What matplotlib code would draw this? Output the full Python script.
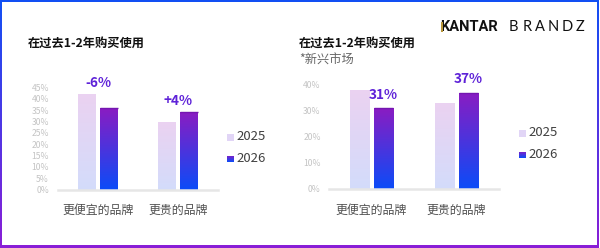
import numpy as np
import matplotlib
matplotlib.use("Agg")
import matplotlib.pyplot as plt
from matplotlib.colors import LinearSegmentedColormap
from matplotlib.patches import Rectangle
from matplotlib.ticker import FuncFormatter

plt.rcParams["font.family"] = ["Noto Sans CJK SC", "DejaVu Sans"]

# ---- data ----
categories = ["更便宜的品牌", "更贵的品牌"]
years = ["2025", "2026"]

left_2025 = [42, 30]
left_2026 = [36, 34]
left_change = ["-6%", "+4%"]
left_ticks = [0, 5, 10, 15, 20, 25, 30, 35, 40, 45]

right_2025 = [38, 33]
right_2026 = [31, 37]
right_ticks = [0, 10, 20, 30, 40]

title = "在过去1-2年购买使用"
subtitle = "*新兴市场"

# ---- style ----
C25_TOP, C25_BOT = "#ebd2f1", "#d3dcfb"
C26_TOP, C26_BOT = "#8a1cc2", "#0b4cf8"
LABEL_C = "#5e22d8"
TICK_C = "#c4c4c4"
CAT_C = "#505050"

W, H = 600, 248
fig = plt.figure(figsize=(W / 100, H / 100), dpi=100)

# background axes in pixel coordinates (border, texts, legend)
bg = fig.add_axes([0, 0, 1, 1], zorder=-10)
bg.set_xlim(0, W)
bg.set_ylim(H, 0)
bg.axis("off")
border = LinearSegmentedColormap.from_list("b", ["#1250f4", "#8a1ed6"])
bg.imshow(np.linspace(0, 1, 256).reshape(-1, 1), cmap=border,
          extent=(0, W, H, 0), aspect="auto", origin="upper", zorder=0)
bg.add_patch(Rectangle((2, 2), 594.8, 243.3, color="white", lw=0, zorder=1))
bg.add_patch(Rectangle((599, 0), 1, H, color="white", lw=0, zorder=1))


def grad_fill(ax, patch, top, bottom, z):
    cmap = LinearSegmentedColormap.from_list("g", [bottom, top])
    x0, y0 = patch.get_x(), patch.get_y()
    w, h = patch.get_width(), patch.get_height()
    im = ax.imshow(np.linspace(0, 1, 256).reshape(-1, 1), cmap=cmap,
                   extent=(x0, x0 + w, y0, y0 + h), origin="lower",
                   aspect="auto", zorder=z)
    im.set_clip_path(patch)


def draw_chart(rect, v25, v26, ticks, ymax, pad):
    ax = fig.add_axes(rect)
    ax.set_facecolor("none")
    x = np.arange(len(categories))
    off, bw = 0.143, 0.225
    b25 = ax.bar(x - off, v25, bw, color="none", lw=0, zorder=2)
    b26 = ax.bar(x + off, v26, bw, color="none", lw=0, zorder=2)
    for b in b25:
        grad_fill(ax, b, C25_TOP, C25_BOT, 2)
    for b in b26:
        grad_fill(ax, b, C26_TOP, C26_BOT, 2)
        ax.plot([b.get_x(), b.get_x() + b.get_width()],
                [b.get_height()] * 2, color="#7416b0", lw=1, zorder=3,
                solid_capstyle="butt")
    ax.set_xlim(-0.5, len(categories) - 0.5)
    ax.set_ylim(0, ymax)
    ax.set_xticks(x)
    ax.set_xticklabels(categories, fontsize=8.6, color=CAT_C)
    ax.set_yticks(ticks)
    ax.yaxis.set_major_formatter(FuncFormatter(lambda v, p: f"{v:.0f}%"))
    ax.tick_params(axis="y", length=0, pad=pad, labelsize=6.2, labelcolor=TICK_C)
    ax.tick_params(axis="x", length=0, pad=10.5)
    for s in ["top", "right", "left"]:
        ax.spines[s].set_visible(False)
    ax.spines["bottom"].set_color("#e6e6e6")
    ax.spines["bottom"].set_linewidth(1.8)
    return ax, x, off


# left chart
axl, xl, off = draw_chart([58 / W, 1 - 189.5 / H, 160 / W, 113.3 / H],
                          left_2025, left_2026, left_ticks, 50, 6.5)
for i, lab in enumerate(left_change):
    top = max(left_2025[i], left_2026[i])
    axl.annotate(lab, (xl[i], top), xytext=(0, 8.5), textcoords="offset points",
                 ha="center", va="center", fontsize=9.8, fontweight="bold",
                 color=LABEL_C)

# right chart
axr, xr, off = draw_chart([329 / W, 1 - 189 / H, 170 / W, 117 / H],
                          right_2025, right_2026, right_ticks, 45, 6)
for i, v in enumerate(right_2026):
    axr.annotate(f"{v}%", (xr[i] + off, v), xytext=(0, 10), textcoords="offset points",
                 ha="center", va="center", fontsize=9.8, fontweight="bold",
                 color=LABEL_C)

# titles
bg.text(28, 43.5, title, fontsize=8.8, fontweight="bold", color="#111111", va="center")
bg.text(299, 43.5, title, fontsize=8.8, fontweight="bold", color="#111111", va="center")
bg.text(299, 60, subtitle, fontsize=8.8, color="#666666", va="center")

# legends
for lx, ly in [(227, 137), (519, 133)]:
    bg.add_patch(Rectangle((lx, ly - 3.5), 7, 7, color="#e1d5f6", lw=0, zorder=3))
    bg.text(lx + 9.5, ly, years[0], fontsize=9.5, color="#404040", va="center")
    sq = Rectangle((lx, ly + 22 - 3.5), 7, 7, facecolor="none", lw=0, zorder=3)
    bg.add_patch(sq)
    cm = LinearSegmentedColormap.from_list("s", [C26_TOP, C26_BOT])
    im = bg.imshow(np.linspace(0, 1, 32).reshape(-1, 1), cmap=cm,
                   extent=(lx, lx + 7, ly + 25.5, ly + 18.5), aspect="auto",
                   origin="upper", zorder=3)
    im.set_clip_path(sq)
    bg.text(lx + 9.5, ly + 22, years[1], fontsize=9.5, color="#404040", va="center")

# logo
bg.text(440, 27, "KANTAR", family="Roboto", fontweight="bold", fontsize=10.5,
        color="#111111", va="center", ha="left", zorder=4)
bg.add_patch(Rectangle((441.0, 22.0), 2.0, 10.2, color="#b8963a", lw=0, zorder=5))
for i, ch in enumerate("BRANDZ"):
    bg.text(513.5 + i * 13.4, 27, ch, family="Lato", fontsize=10.5,
            color="#111111", va="center", ha="center", zorder=4)

bg.set_xlim(0, W)
bg.set_ylim(H, 0)
fig.savefig("out.png", dpi=100)
